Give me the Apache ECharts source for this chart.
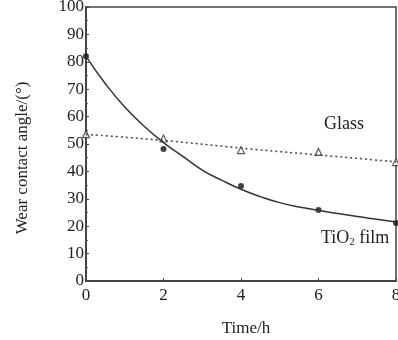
<!DOCTYPE html>
<html>
<head>
<meta charset="utf-8">
<script src="https://cdn.jsdelivr.net/npm/echarts@6/dist/echarts.min.js"></script>
<style>
  html,body{margin:0;padding:0;background:#fff;}
  #chart{width:398px;height:340px;}
</style>
</head>
<body>
<div id="chart"></div>
<script>
// measured points
const hours=[0,2,4,6,8];
const tio2Points=[82,48.2,34.7,25.9,21.2];
const glassPoints=[53.6,52,47.8,47.1,43.4];
// fitted curves
const tio2FitX=[0,0.5,1,1.5,2,2.5,3,3.5,4,4.5,5,5.5,6,6.5,7,7.5,8];
const tio2FitY=[82,72,63.5,56.5,50.5,45.5,40.5,36.8,33.5,30.8,28.6,27,25.8,24.6,23.5,22.5,21.5];
const glassFitX=[0,2,4,6,8];
const glassFitY=[53.5,51.3,48.5,46,43.5];

const pairs=(xs,ys)=>xs.map((x,i)=>[x,ys[i]]);
const font='"Liberation Serif", "DejaVu Serif", serif';

const chart=echarts.init(document.getElementById('chart'));
chart.setOption({
  animation:false,
  textStyle:{fontFamily:font},
  grid:{left:86,right:2,top:7,bottom:59,outerBoundsMode:'none',containLabel:false,
    show:true,borderColor:'#444',borderWidth:1.5},
  xAxis:{
    type:'value',min:0,max:8,interval:2,
    axisLine:{show:true,onZero:false,lineStyle:{color:'#444',width:2}},
    axisTick:{show:true,inside:true,length:3,lineStyle:{color:'#444'}},
    axisLabel:{fontFamily:font,fontSize:17,color:'#222',margin:6},
    splitLine:{show:false}
  },
  yAxis:{
    type:'value',min:0,max:100,interval:10,
    axisLine:{show:true,lineStyle:{color:'#444',width:2}},
    axisTick:{show:true,inside:true,length:3,lineStyle:{color:'#444'}},
    minorTick:{show:true,splitNumber:2,length:2,lineStyle:{color:'#666'}},
    axisLabel:{fontFamily:font,fontSize:17,color:'#222',margin:2},
    splitLine:{show:false}
  },
  series:[
    {
      name:'TiO2 fit',type:'line',smooth:true,symbol:'none',
      data:pairs(tio2FitX,tio2FitY),
      lineStyle:{color:'#333',width:1.5}
    },
    {
      name:'Glass fit',type:'line',smooth:true,symbol:'none',
      data:pairs(glassFitX,glassFitY),
      lineStyle:{color:'#444',width:1.5,type:[2,3]}
    },
    {
      name:'TiO2 film',type:'scatter',symbol:'circle',symbolSize:6,
      data:pairs(hours,tio2Points),
      itemStyle:{color:'#111'}
    },
    {
      name:'Glass',type:'scatter',symbol:'triangle',symbolSize:7,
      data:pairs(hours,glassPoints),
      itemStyle:{color:'#fff',borderColor:'#333',borderWidth:1.2}
    }
  ],
  graphic:[
    {type:'text',x:23,y:158,rotation:Math.PI/2,style:{
      text:'Wear contact angle/(°)',font:'17px "Liberation Serif", serif',fill:'#222',
      align:'center',verticalAlign:'middle'
    }},
    {type:'text',x:246,y:329,style:{
      text:'Time/h',font:'17px "Liberation Serif", serif',fill:'#222',
      align:'center',verticalAlign:'middle'
    }},
    {type:'text',left:324,top:115,style:{text:'Glass',font:'18px "Liberation Serif", serif',fill:'#222'}},
    {type:'text',left:321,top:229,style:{
      text:'TiO{sub|2} film',font:'18px "Liberation Serif", serif',fill:'#222',
      rich:{sub:{fontSize:11,fontFamily:font,fill:'#222',padding:[9,0,0,0]}}
    }}
  ]
});
</script>
</body>
</html>
